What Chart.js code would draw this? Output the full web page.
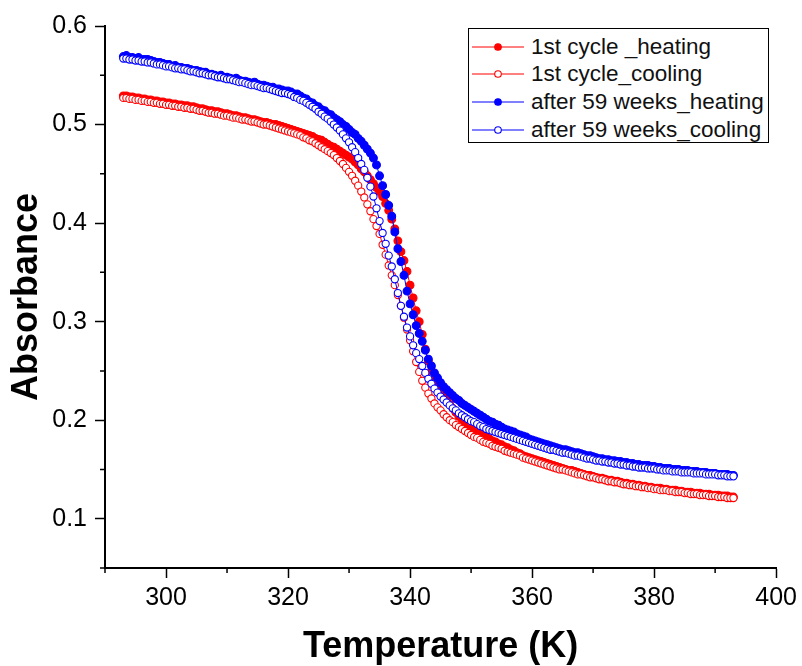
<!DOCTYPE html>
<html>
<head>
<meta charset="utf-8">
<script src="https://cdn.jsdelivr.net/npm/chart.js@4.4.1/dist/chart.umd.min.js"></script>
<style>
  body { margin: 0; background: #fff; }
  #contenedor { position: relative; width: 802px; height: 666px; }
  #leyenda {
    position: absolute; left: 468px; top: 28px; width: 301px; height: 115px;
    border: 1.3px solid #000; background: #fff;
    font-family: 'Liberation Sans', Arial, sans-serif; font-size: 22.5px; color: #111;
    padding-top: 4px; box-sizing: border-box;
  }
  .fila { display: flex; align-items: center; height: 27.6px; }
  .fila svg { margin-left: 3px; margin-right: 7px; }
</style>
</head>
<body>
<div id="contenedor">
  <canvas id="grafica" width="802" height="666"></canvas>
  <div id="leyenda"></div>
</div>
<script>
// --- Datos ---
const temperaturas = [
  293, 293.5, 294, 294.5, 295, 295.5, 296, 296.5, 297, 297.5,
  298, 298.5, 299, 299.5, 300, 300.5, 301, 301.5, 302, 302.5,
  303, 303.5, 304, 304.5, 305, 305.5, 306, 306.5, 307, 307.5,
  308, 308.5, 309, 309.5, 310, 310.5, 311, 311.5, 312, 312.5,
  313, 313.5, 314, 314.5, 315, 315.5, 316, 316.5, 317, 317.5,
  318, 318.5, 319, 319.5, 320, 320.5, 321, 321.5, 322, 322.5,
  323, 323.5, 324, 324.5, 325, 325.5, 326, 326.5, 327, 327.5,
  328, 328.5, 329, 329.5, 330, 330.5, 331, 331.5, 332, 332.5,
  333, 333.5, 334, 334.5, 335, 335.5, 336, 336.5, 337, 337.5,
  338, 338.5, 339, 339.5, 340, 340.5, 341, 341.5, 342, 342.5,
  343, 343.5, 344, 344.5, 345, 345.5, 346, 346.5, 347, 347.5,
  348, 348.5, 349, 349.5, 350, 350.5, 351, 351.5, 352, 352.5,
  353, 353.5, 354, 354.5, 355, 355.5, 356, 356.5, 357, 357.5,
  358, 358.5, 359, 359.5, 360, 360.5, 361, 361.5, 362, 362.5,
  363, 363.5, 364, 364.5, 365, 365.5, 366, 366.5, 367, 367.5,
  368, 368.5, 369, 369.5, 370, 370.5, 371, 371.5, 372, 372.5,
  373, 373.5, 374, 374.5, 375, 375.5, 376, 376.5, 377, 377.5,
  378, 378.5, 379, 379.5, 380, 380.5, 381, 381.5, 382, 382.5,
  383, 383.5, 384, 384.5, 385, 385.5, 386, 386.5, 387, 387.5,
  388, 388.5, 389, 389.5, 390, 390.5, 391, 391.5, 392, 392.5,
  393
];

// 1st cycle _heating
const ciclo1Calentamiento = [
  0.529, 0.529, 0.528, 0.528, 0.527, 0.527, 0.526, 0.526, 0.525, 0.525,
  0.524, 0.524, 0.523, 0.523, 0.522, 0.522, 0.521, 0.521, 0.520, 0.520,
  0.519, 0.519, 0.518, 0.518, 0.517, 0.516, 0.516, 0.515, 0.514, 0.514,
  0.513, 0.513, 0.512, 0.511, 0.511, 0.510, 0.509, 0.509, 0.508, 0.507,
  0.507, 0.506, 0.505, 0.505, 0.504, 0.503, 0.502, 0.502, 0.501, 0.500,
  0.500, 0.499, 0.498, 0.497, 0.496, 0.495, 0.494, 0.493, 0.492, 0.491,
  0.490, 0.489, 0.488, 0.486, 0.485, 0.484, 0.482, 0.480, 0.478, 0.477,
  0.475, 0.473, 0.471, 0.469, 0.467, 0.465, 0.462, 0.459, 0.455, 0.452,
  0.448, 0.444, 0.440, 0.436, 0.432, 0.427, 0.420, 0.413, 0.404, 0.394,
  0.382, 0.371, 0.362, 0.351, 0.337, 0.324, 0.311, 0.300, 0.287, 0.272,
  0.260, 0.250, 0.242, 0.236, 0.231, 0.226, 0.221, 0.216, 0.212, 0.208,
  0.204, 0.201, 0.198, 0.195, 0.193, 0.191, 0.189, 0.186, 0.184, 0.183,
  0.181, 0.179, 0.178, 0.176, 0.175, 0.173, 0.172, 0.170, 0.169, 0.167,
  0.166, 0.164, 0.163, 0.162, 0.161, 0.160, 0.159, 0.158, 0.157, 0.156,
  0.155, 0.154, 0.153, 0.152, 0.151, 0.150, 0.149, 0.149, 0.148, 0.147,
  0.146, 0.145, 0.144, 0.144, 0.143, 0.142, 0.141, 0.141, 0.140, 0.139,
  0.139, 0.138, 0.138, 0.137, 0.136, 0.136, 0.135, 0.135, 0.134, 0.134,
  0.133, 0.133, 0.132, 0.132, 0.131, 0.131, 0.131, 0.130, 0.130, 0.129,
  0.129, 0.129, 0.128, 0.128, 0.127, 0.127, 0.127, 0.126, 0.126, 0.126,
  0.125, 0.125, 0.125, 0.124, 0.124, 0.124, 0.123, 0.123, 0.123, 0.122,
  0.122
];

// 1st cycle_cooling
const ciclo1Enfriamiento = [
  0.527, 0.527, 0.526, 0.526, 0.525, 0.525, 0.524, 0.524, 0.523, 0.523,
  0.522, 0.522, 0.521, 0.521, 0.520, 0.520, 0.519, 0.519, 0.518, 0.518,
  0.517, 0.517, 0.516, 0.516, 0.515, 0.514, 0.514, 0.513, 0.512, 0.512,
  0.511, 0.511, 0.510, 0.509, 0.509, 0.508, 0.507, 0.507, 0.506, 0.505,
  0.505, 0.504, 0.503, 0.503, 0.502, 0.501, 0.500, 0.500, 0.499, 0.498,
  0.497, 0.496, 0.495, 0.494, 0.493, 0.492, 0.491, 0.490, 0.489, 0.487,
  0.486, 0.484, 0.483, 0.481, 0.479, 0.477, 0.475, 0.473, 0.471, 0.469,
  0.466, 0.463, 0.460, 0.456, 0.452, 0.448, 0.443, 0.438, 0.432, 0.426,
  0.419, 0.412, 0.404, 0.397, 0.389, 0.378, 0.368, 0.357, 0.347, 0.337,
  0.327, 0.316, 0.304, 0.292, 0.281, 0.270, 0.259, 0.249, 0.240, 0.233,
  0.227, 0.222, 0.217, 0.213, 0.210, 0.206, 0.203, 0.200, 0.198, 0.195,
  0.193, 0.191, 0.189, 0.187, 0.185, 0.183, 0.182, 0.180, 0.178, 0.177,
  0.176, 0.174, 0.173, 0.172, 0.171, 0.169, 0.168, 0.167, 0.166, 0.165,
  0.164, 0.162, 0.161, 0.160, 0.159, 0.158, 0.157, 0.156, 0.155, 0.154,
  0.153, 0.152, 0.151, 0.150, 0.150, 0.149, 0.148, 0.147, 0.146, 0.145,
  0.145, 0.144, 0.143, 0.142, 0.142, 0.141, 0.140, 0.140, 0.139, 0.138,
  0.138, 0.137, 0.137, 0.136, 0.135, 0.135, 0.134, 0.134, 0.133, 0.133,
  0.132, 0.132, 0.131, 0.131, 0.130, 0.130, 0.129, 0.129, 0.129, 0.128,
  0.128, 0.127, 0.127, 0.127, 0.126, 0.126, 0.125, 0.125, 0.125, 0.124,
  0.124, 0.124, 0.123, 0.123, 0.123, 0.122, 0.122, 0.122, 0.121, 0.121,
  0.121
];

// after 59 weeks_heating
const semanas59Calentamiento = [
  0.569, 0.570, 0.568, 0.568, 0.567, 0.568, 0.566, 0.566, 0.566, 0.565,
  0.564, 0.563, 0.563, 0.562, 0.561, 0.561, 0.559, 0.560, 0.558, 0.558,
  0.557, 0.557, 0.556, 0.555, 0.555, 0.554, 0.553, 0.553, 0.551, 0.551,
  0.550, 0.549, 0.550, 0.548, 0.548, 0.547, 0.546, 0.547, 0.545, 0.544,
  0.544, 0.543, 0.542, 0.543, 0.541, 0.540, 0.540, 0.539, 0.538, 0.538,
  0.536, 0.536, 0.535, 0.534, 0.534, 0.533, 0.531, 0.531, 0.529, 0.527,
  0.526, 0.523, 0.522, 0.519, 0.518, 0.515, 0.514, 0.511, 0.510, 0.507,
  0.505, 0.503, 0.500, 0.498, 0.495, 0.492, 0.490, 0.486, 0.483, 0.479,
  0.475, 0.471, 0.466, 0.459, 0.448, 0.438, 0.429, 0.418, 0.407, 0.391,
  0.374, 0.361, 0.347, 0.331, 0.318, 0.307, 0.296, 0.288, 0.280, 0.271,
  0.262, 0.255, 0.248, 0.243, 0.238, 0.234, 0.231, 0.228, 0.225, 0.222,
  0.220, 0.217, 0.215, 0.213, 0.211, 0.209, 0.207, 0.205, 0.203, 0.201,
  0.199, 0.198, 0.196, 0.195, 0.193, 0.191, 0.190, 0.189, 0.188, 0.186,
  0.185, 0.184, 0.183, 0.181, 0.180, 0.179, 0.178, 0.177, 0.176, 0.175,
  0.174, 0.173, 0.172, 0.171, 0.170, 0.170, 0.169, 0.168, 0.167, 0.167,
  0.166, 0.165, 0.164, 0.164, 0.163, 0.162, 0.161, 0.161, 0.160, 0.160,
  0.159, 0.159, 0.158, 0.158, 0.157, 0.157, 0.156, 0.156, 0.155, 0.155,
  0.154, 0.154, 0.154, 0.153, 0.153, 0.152, 0.152, 0.151, 0.151, 0.151,
  0.150, 0.150, 0.150, 0.149, 0.149, 0.149, 0.148, 0.148, 0.148, 0.147,
  0.147, 0.147, 0.146, 0.146, 0.146, 0.145, 0.145, 0.145, 0.145, 0.144,
  0.144
];

// after 59 weeks_cooling
const semanas59Enfriamiento = [
  0.567, 0.567, 0.566, 0.566, 0.565, 0.565, 0.564, 0.564, 0.563, 0.563,
  0.562, 0.561, 0.561, 0.560, 0.559, 0.559, 0.558, 0.557, 0.557, 0.556,
  0.556, 0.555, 0.554, 0.554, 0.553, 0.552, 0.552, 0.551, 0.550, 0.550,
  0.549, 0.548, 0.548, 0.547, 0.546, 0.546, 0.545, 0.544, 0.543, 0.543,
  0.542, 0.541, 0.540, 0.540, 0.539, 0.538, 0.537, 0.537, 0.536, 0.535,
  0.534, 0.533, 0.532, 0.532, 0.531, 0.530, 0.528, 0.527, 0.525, 0.524,
  0.522, 0.520, 0.518, 0.516, 0.513, 0.511, 0.508, 0.506, 0.503, 0.500,
  0.497, 0.494, 0.490, 0.486, 0.482, 0.477, 0.472, 0.466, 0.460, 0.454,
  0.446, 0.437, 0.427, 0.415, 0.402, 0.390, 0.379, 0.367, 0.356, 0.343,
  0.329, 0.316, 0.305, 0.294, 0.285, 0.276, 0.268, 0.262, 0.255, 0.248,
  0.242, 0.237, 0.232, 0.228, 0.224, 0.221, 0.218, 0.215, 0.212, 0.210,
  0.207, 0.205, 0.203, 0.201, 0.199, 0.198, 0.196, 0.194, 0.193, 0.191,
  0.190, 0.189, 0.188, 0.187, 0.186, 0.185, 0.184, 0.183, 0.182, 0.181,
  0.180, 0.179, 0.178, 0.177, 0.176, 0.175, 0.174, 0.173, 0.172, 0.171,
  0.170, 0.170, 0.169, 0.168, 0.167, 0.167, 0.166, 0.165, 0.164, 0.164,
  0.163, 0.162, 0.161, 0.161, 0.160, 0.159, 0.159, 0.158, 0.158, 0.157,
  0.157, 0.156, 0.156, 0.155, 0.155, 0.154, 0.154, 0.153, 0.153, 0.152,
  0.152, 0.152, 0.151, 0.151, 0.151, 0.150, 0.150, 0.149, 0.149, 0.149,
  0.148, 0.148, 0.148, 0.147, 0.147, 0.147, 0.147, 0.146, 0.146, 0.146,
  0.146, 0.145, 0.145, 0.145, 0.145, 0.144, 0.144, 0.144, 0.143, 0.143,
  0.143
];

const nombresSeries = ["1st cycle _heating", "1st cycle_cooling", "after 59 weeks_heating", "after 59 weeks_cooling"];
const ticksMenoresX = [290, 310, 330, 350, 370, 390];
const ticksMenoresY = [0.05, 0.15, 0.25, 0.35, 0.45, 0.55];

// --- Series ---
function puntos(valores) {
    return temperaturas.map((t, i) => ({ x: t, y: valores[i] }));
}

function serie(nombre, valores, color, relleno, orden) {
    return {
        label: nombre,
        data: puntos(valores),
        borderColor: color,
        borderWidth: 1,
        pointRadius: relleno ? 3.9 : 3.6,
        pointBorderWidth: 1.1,
        pointBorderColor: color,
        pointBackgroundColor: relleno ? color : '#fff',
        showLine: true,
        tension: 0,
        order: orden
    };
}

const datasets = [
    serie(nombresSeries[0], ciclo1Calentamiento, '#ff0000', true, 4),
    serie(nombresSeries[1], ciclo1Enfriamiento, '#ff0000', false, 3),
    serie(nombresSeries[2], semanas59Calentamiento, '#0000ff', true, 2),
    serie(nombresSeries[3], semanas59Enfriamiento, '#0000ff', false, 1)
];

// --- Ticks menores (mas cortos que los mayores) ---
const pluginTicksMenores = {
    id: 'ticksMenores',
    afterDraw(chart) {
        const ctx = chart.ctx;
        const xs = chart.scales.x;
        const ys = chart.scales.y;
        ctx.save();
        ctx.strokeStyle = '#000';
        ctx.lineWidth = 1.5;
        ctx.beginPath();
        ticksMenoresX.forEach(v => {
            const px = xs.getPixelForValue(v);
            ctx.moveTo(px, ys.bottom);
            ctx.lineTo(px, ys.bottom + 5);
        });
        ticksMenoresY.forEach(v => {
            const py = ys.getPixelForValue(v);
            ctx.moveTo(xs.left, py);
            ctx.lineTo(xs.left - 5, py);
        });
        ctx.stroke();
        ctx.restore();
    }
};

Chart.defaults.font.family = "'Liberation Sans', Arial, sans-serif";
Chart.defaults.color = '#000';

const grafica = new Chart(document.getElementById('grafica').getContext('2d'), {
    type: 'line',
    data: { datasets: datasets },
    options: {
        responsive: false,
        animation: false,
        layout: { padding: { top: 26, right: 24, left: 0, bottom: 0 } },
        plugins: {
            legend: { display: false },
            tooltip: { enabled: false }
        },
        scales: {
            x: {
                type: 'linear',
                min: 290,
                max: 400,
                afterFit: s => { s.height = 98; },
                border: { display: true, color: '#000', width: 2 },
                grid: { drawOnChartArea: false, drawTicks: true, tickLength: 10, tickColor: '#000', tickWidth: 1.5 },
                ticks: { stepSize: 20, includeBounds: false, maxRotation: 0, padding: 5, font: { size: 25 }, color: '#000' },
                title: { display: true, text: 'Temperature (K)', font: { size: 36, weight: 'bold' }, color: '#000', padding: { bottom: -3 } }
            },
            y: {
                min: 0.05,
                max: 0.6,
                afterFit: s => { s.width = 105; },
                border: { display: true, color: '#000', width: 2 },
                grid: { drawOnChartArea: false, drawTicks: true, tickLength: 10, tickColor: '#000', tickWidth: 1.5 },
                ticks: { stepSize: 0.1, includeBounds: false, padding: 8, font: { size: 25 }, color: '#000' },
                title: { display: true, text: 'Absorbance', font: { size: 36, weight: 'bold' }, color: '#000', padding: { top: 5 } }
            }
        }
    },
    plugins: [pluginTicksMenores]
});

// --- Leyenda ---
const leyenda = document.getElementById('leyenda');
datasets.forEach(d => {
    const fila = document.createElement('div');
    fila.className = 'fila';
    const relleno = d.pointBackgroundColor;
    fila.innerHTML =
        '<svg width="52" height="12"><line x1="0" y1="6" x2="52" y2="6" stroke="' + d.borderColor + '" stroke-width="1"/>' +
        '<circle cx="26" cy="6" r="3.3" fill="' + relleno + '" stroke="' + d.borderColor + '" stroke-width="1.1"/></svg>' +
        '<span>' + d.label + '</span>';
    leyenda.appendChild(fila);
});
</script>
</body>
</html>
